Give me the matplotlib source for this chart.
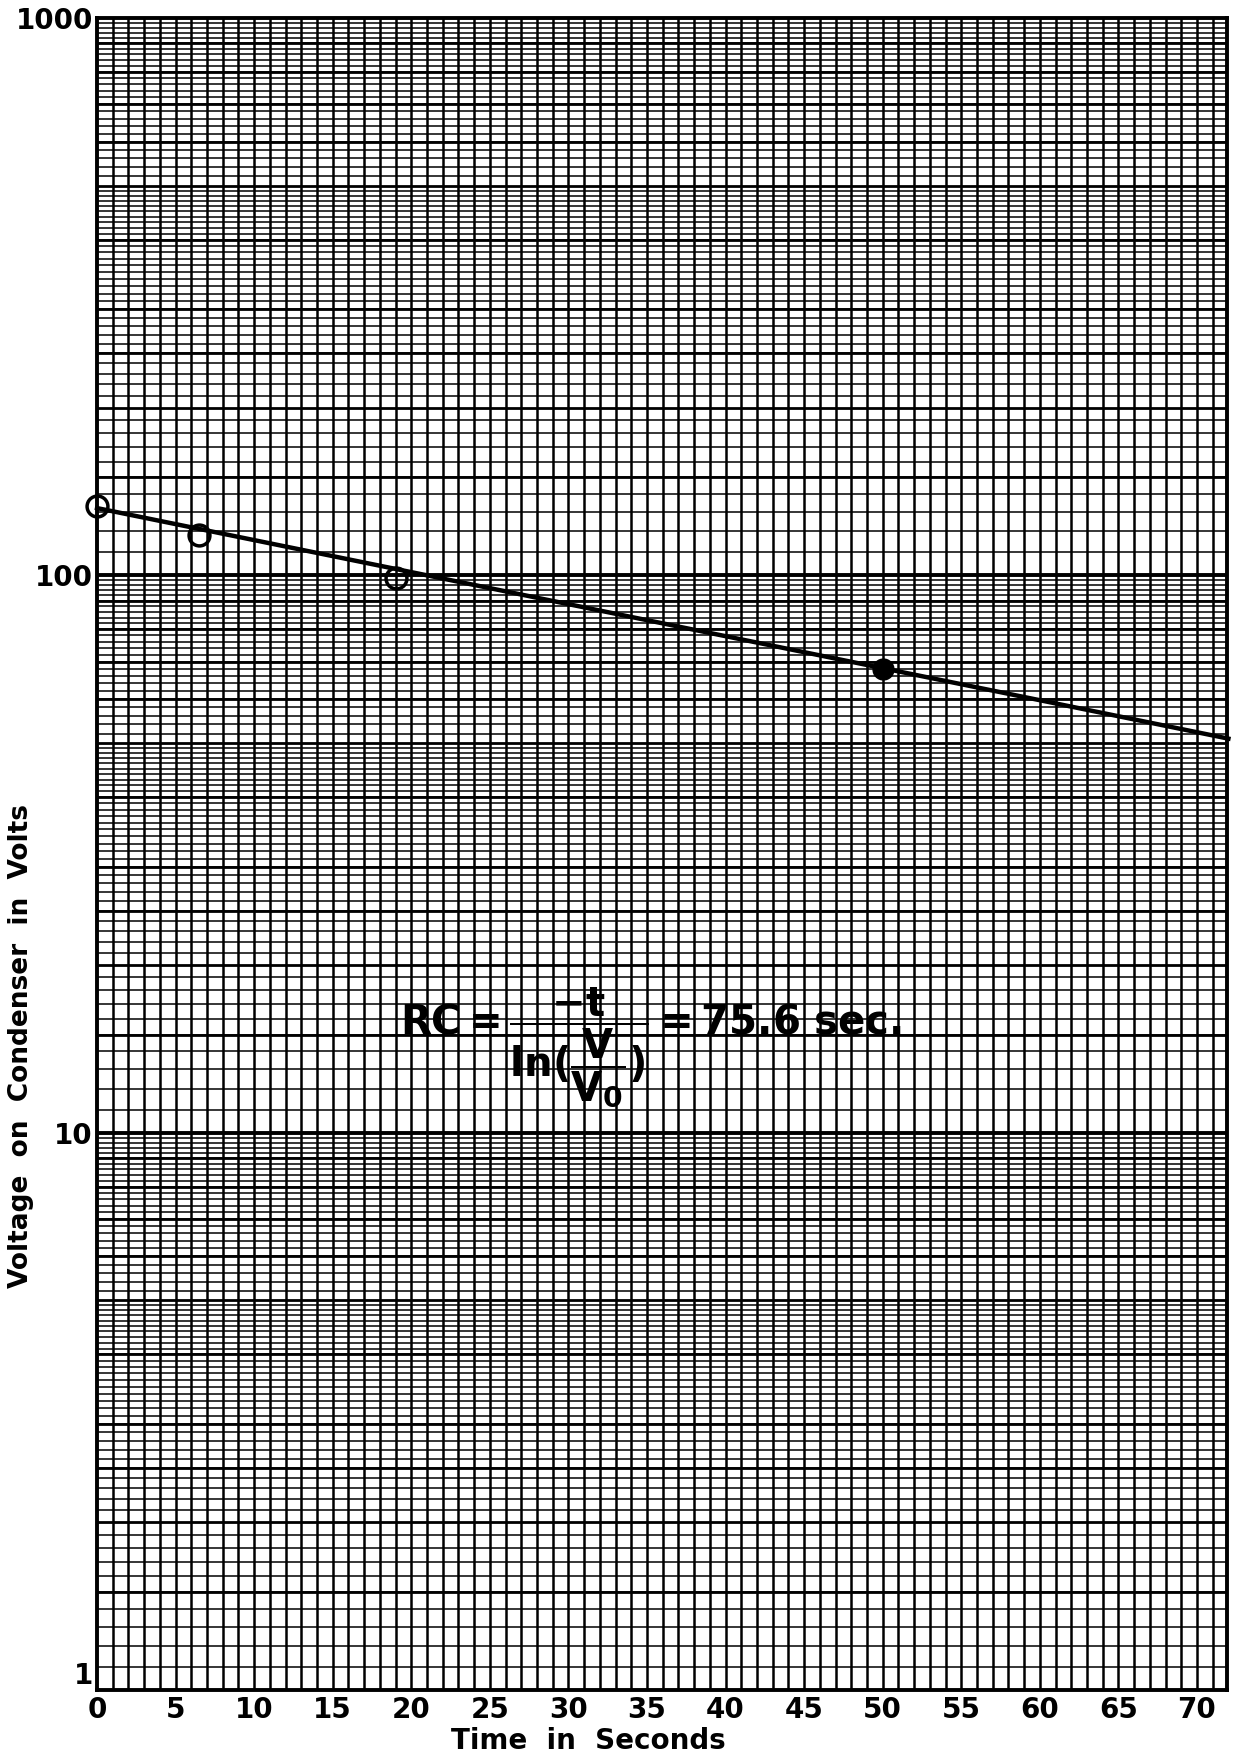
import numpy as np
import matplotlib.pyplot as plt
from matplotlib.ticker import FixedLocator, NullFormatter

t_open = [0, 6.5, 19]
v_open = [133, 118, 99]
t_filled = [50]
v_filled = [68]

# fitted decay line
V0 = 132
RC = 75.6
t_fit = np.array([0, 72])
v_fit = V0 * np.exp(-t_fit / RC)

x_ticks = [0, 5, 10, 15, 20, 25, 30, 35, 40, 45, 50, 55, 60, 65, 70]
y_ticks = [1, 10, 100, 1000]

plt.rcParams['mathtext.default'] = 'bf'
plt.rcParams['font.family'] = ['DejaVu Sans']

fig = plt.figure(figsize=(12.33, 17.57), dpi=100)
ax = fig.add_axes([0.0787, 0.0381, 0.9163, 0.9517])
ax.set_yscale('log')
ax.set_xlim(0, 71.9)
ax.set_ylim(1, 1000)

# graph paper grid
for x in np.arange(1, 72, 1):
    ax.axvline(x, color='black', lw=1.8, zorder=1)

heavy = []
light = []
for dec in [1, 10, 100]:
    for m in range(2, 10):
        heavy.append(m * dec)
    heavy.append(1.5 * dec)
    heavy.append(2.5 * dec)
    for m in np.arange(1.1, 2.0, 0.1):
        light.append(m * dec)
    for m in np.arange(2.1, 5.0, 0.1):
        light.append(m * dec)
    for m in np.arange(5.2, 10.0, 0.2):
        light.append(m * dec)
for y in light:
    ax.axhline(y, color='black', lw=1.1, zorder=1)
for y in heavy:
    ax.axhline(y, color='black', lw=2.0, zorder=1)
for y in [10, 100]:
    ax.axhline(y, color='black', lw=2.8, zorder=1)

for s in ax.spines.values():
    s.set_linewidth(2.8)

ax.plot(t_fit, v_fit, color='black', lw=3.2, zorder=3, clip_on=False)
ax.plot(t_open, v_open, 'o', ms=15, mfc='none', mec='black', mew=2.5, zorder=4, clip_on=False)
ax.plot(t_filled, v_filled, 'o', ms=15, mfc='black', mec='black', zorder=4)

ax.xaxis.set_major_locator(FixedLocator(x_ticks))
ax.yaxis.set_major_locator(FixedLocator(y_ticks))
ax.yaxis.set_minor_formatter(NullFormatter())
ax.set_xticklabels([str(v) for v in x_ticks], fontweight='bold')
ax.set_yticklabels([str(v) for v in y_ticks], fontweight='bold')
ax.tick_params(axis='both', which='both', length=0, labelsize=20)
ax.tick_params(axis='x', pad=4)
ax.tick_params(axis='y', pad=3)
# the "1" sits just above the bottom edge, clear of the "0"
ax.get_yticklabels()[0].set_va('bottom')

ax.set_xlabel('Time  in  Seconds', fontsize=20, fontweight='bold', labelpad=0)
ax.xaxis.set_label_coords(0.435, -0.022)
ax.set_ylabel('Voltage  on  Condenser  in  Volts', fontsize=19, fontweight='bold')
ax.yaxis.set_label_coords(-0.056, 0.385)

ax.text(19.3, 14.2, r'$RC = \dfrac{-t}{ln(\dfrac{V}{V_0})} = 75.6\ sec.$',
        fontsize=29, va='center', ha='left', zorder=5)

plt.savefig('out.png', dpi=100)
